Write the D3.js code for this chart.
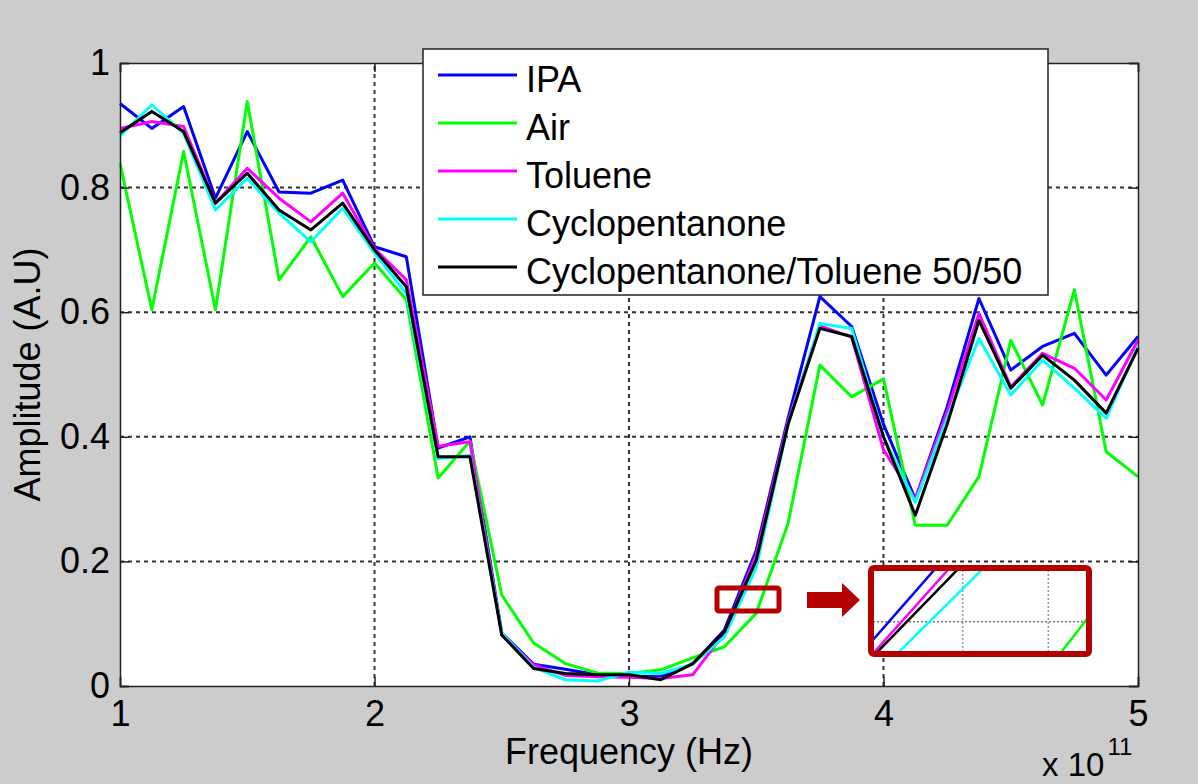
<!DOCTYPE html>
<html>
<head>
<meta charset="utf-8">
<script src="https://cdn.jsdelivr.net/npm/d3@7"></script>
<style>
body{margin:0;background:#cccccc;}
svg text{font-family:Arial,"Liberation Sans",sans-serif;}
</style>
</head>
<body>
<div id="svg"></div>
<script>
// frequency in units of 1e11 Hz
var freq=[1,1.125,1.25,1.375,1.5,1.625,1.75,1.875,2,2.125,2.25,2.375,2.5,2.625,2.75,2.875,3,
3.125,3.25,3.375,3.5,3.625,3.75,3.875,4,4.125,4.25,4.375,4.5,4.625,4.75,4.875,5];

var ipa=[0.935,0.895,0.930,0.783,0.890,0.793,0.791,0.812,0.705,0.689,0.382,0.400,0.085,0.035,0.027,0.018,0.016,
0.015,0.035,0.090,0.218,0.430,0.625,0.577,0.420,0.300,0.448,0.622,0.507,0.545,0.566,0.499,0.561];
var air=[0.839,0.604,0.858,0.604,0.938,0.652,0.721,0.625,0.679,0.620,0.334,0.393,0.146,0.069,0.036,0.021,0.020,
0.026,0.045,0.063,0.117,0.261,0.515,0.464,0.493,0.258,0.258,0.336,0.555,0.451,0.636,0.376,0.336];
var toluene=[0.895,0.906,0.898,0.775,0.831,0.783,0.745,0.791,0.702,0.652,0.385,0.392,0.082,0.034,0.017,0.015,0.014,
0.012,0.018,0.085,0.210,0.425,0.578,0.560,0.379,0.300,0.440,0.598,0.480,0.534,0.510,0.459,0.555];
var cyclo=[0.883,0.933,0.887,0.764,0.815,0.759,0.713,0.767,0.695,0.630,0.365,0.370,0.085,0.030,0.010,0.008,0.022,
0.020,0.035,0.079,0.190,0.420,0.582,0.574,0.400,0.295,0.430,0.558,0.467,0.523,0.478,0.430,0.545];
var mix=[0.888,0.922,0.890,0.775,0.823,0.764,0.732,0.775,0.700,0.641,0.368,0.368,0.082,0.028,0.020,0.018,0.018,
0.010,0.036,0.087,0.202,0.420,0.574,0.561,0.400,0.274,0.420,0.587,0.478,0.531,0.491,0.438,0.542];

var names=["IPA","Air","Toluene","Cyclopentanone","Cyclopentanone/Toluene 50/50"];
var colors=["#0000ff","#00ff00","#ff00ff","#00ffff","#000000"];
var xTicks=[1,2,3,4,5];
var yTicks=[0,0.2,0.4,0.6,0.8,1];
var yTickLabels=["0","0.2","0.4","0.6","0.8","1"];

var series=[ipa,air,toluene,cyclo,mix].map((v,k)=>({name:names[k],color:colors[k],values:v}));

var width=1198,height=784;
var margin={top:63,left:120,right:60,bottom:98};
var svg=d3.select("#svg").append("svg").attr("width",width).attr("height",height);
svg.append("rect").attr("width",width).attr("height",height).attr("fill","#cccccc");

var x=d3.scaleLinear().domain([1,5]).range([margin.left,width-margin.right]);
var y=d3.scaleLinear().domain([0,1]).range([height-margin.bottom,margin.top]);

svg.append("rect").attr("x",x(1)).attr("y",y(1)).attr("width",x(5)-x(1)).attr("height",y(0)-y(1)).attr("fill","#fff");

// grid
var grid=svg.append("g").attr("stroke","#333").attr("stroke-width",2).attr("stroke-dasharray","4,4");
grid.selectAll(".gx").data(xTicks.slice(1,-1)).enter().append("line")
.attr("x1",d=>x(d)).attr("x2",d=>x(d)).attr("y1",y(0)).attr("y2",y(1));
grid.selectAll(".gy").data(yTicks.slice(1,-1)).enter().append("line")
.attr("y1",d=>y(d)).attr("y2",d=>y(d)).attr("x1",x(1)).attr("x2",x(5));

// lines
var line=d3.line().x((d,i)=>x(freq[i])).y(d=>y(d));
svg.selectAll(".series").data(series).enter().append("path")
.attr("fill","none").attr("stroke",d=>d.color).attr("stroke-width",3)
.attr("stroke-linejoin","round").attr("d",d=>line(d.values));

// axes
var axB=svg.append("g").attr("transform","translate(0,"+y(0)+")")
.call(d3.axisBottom(x).tickValues(xTicks).tickFormat(d3.format("d")).tickSize(-9).tickPadding(14));
var axT=svg.append("g").attr("transform","translate(0,"+y(1)+")")
.call(d3.axisTop(x).tickValues(xTicks).tickFormat("").tickSize(-9));
var axL=svg.append("g").attr("transform","translate("+x(1)+",0)")
.call(d3.axisLeft(y).tickValues(yTicks).tickFormat((d,i)=>yTickLabels[i]).tickSize(-9).tickPadding(10));
var axR=svg.append("g").attr("transform","translate("+x(5)+",0)")
.call(d3.axisRight(y).tickValues(yTicks).tickFormat("").tickSize(-9));
[axB,axT,axL,axR].forEach(a=>{
  a.select(".domain").attr("stroke","#222").attr("stroke-width",1.5);
  a.selectAll(".tick line").attr("stroke","#222").attr("stroke-width",1.5);
  a.selectAll("text").attr("font-size","36px").attr("fill","#000");
});

// labels
svg.append("text").attr("x",(x(1)+x(5))/2).attr("y",764).attr("text-anchor","middle")
.attr("font-size","36px").text("Frequency (Hz)");
svg.append("text").attr("transform","translate(40,"+(y(0)+y(1))/2+") rotate(-90)").attr("text-anchor","middle")
.attr("font-size","36px").text("Amplitude (A.U)");
var ex=svg.append("text").attr("x",1042).attr("y",776).attr("font-size","33px");
ex.append("tspan").text("x 10");
ex.append("tspan").attr("dx",3).attr("dy",-21).attr("font-size","24px").text("11");

// legend
var lg=svg.append("g").attr("transform","translate(423,49)");
lg.append("rect").attr("width",625).attr("height",246).attr("fill","#fff").attr("stroke","#222").attr("stroke-width",1.5);
var row=lg.selectAll(".row").data(series).enter().append("g").attr("transform",(d,i)=>"translate(0,"+(26+i*48)+")");
row.append("line").attr("x1",15).attr("x2",94).attr("stroke",d=>d.color).attr("stroke-width",3);
row.append("text").attr("x",103).attr("y",17).attr("font-size","36px").text(d=>d.name);

// zoom inset
var red="#b50000";
var insetX=[3.416,3.521], insetY=[0.1267,0.1627];
var box={x:873,y:570,w:214,h:82};
var ix=d3.scaleLinear().domain(insetX).range([box.x,box.x+box.w]);
var iy=d3.scaleLinear().domain(insetY).range([box.y+box.h,box.y]);
var defs=svg.append("defs");
defs.append("clipPath").attr("id","clip").append("rect").attr("x",box.x).attr("y",box.y).attr("width",box.w).attr("height",box.h);
var ins=svg.append("g");
ins.append("rect").attr("x",box.x).attr("y",box.y).attr("width",box.w).attr("height",box.h).attr("fill","#fff");
var ig=ins.append("g").attr("clip-path","url(#clip)");
ig.selectAll(".ivx").data([3.46,3.502]).enter().append("line")
.attr("x1",d=>ix(d)).attr("x2",d=>ix(d)).attr("y1",box.y).attr("y2",box.y+box.h)
.attr("stroke","#999").attr("stroke-width",1.5).attr("stroke-dasharray","2,2");
ig.selectAll(".ivy").data([0.14]).enter().append("line")
.attr("y1",d=>iy(d)).attr("y2",d=>iy(d)).attr("x1",box.x).attr("x2",box.x+box.w)
.attr("stroke","#777").attr("stroke-width",1.5).attr("stroke-dasharray","2,2");
var iline=d3.line().x((d,i)=>ix(freq[i])).y(d=>iy(d));
ig.selectAll(".iser").data(series).enter().append("path")
.attr("fill","none").attr("stroke",d=>d.color).attr("stroke-width",2.5).attr("d",d=>iline(d.values));
ins.append("rect").attr("x",box.x-2).attr("y",box.y-2).attr("width",box.w+4).attr("height",box.h+4)
.attr("rx",3).attr("fill","none").attr("stroke",red).attr("stroke-width",6);
svg.append("rect").attr("x",717).attr("y",588).attr("width",62).attr("height",23).attr("rx",2)
.attr("fill","none").attr("stroke",red).attr("stroke-width",5);
svg.append("path").attr("d","M807,592 L842,592 L842,583 L860,600 L842,617 L842,608 L807,608 Z").attr("fill",red);
</script>
</body>
</html>
